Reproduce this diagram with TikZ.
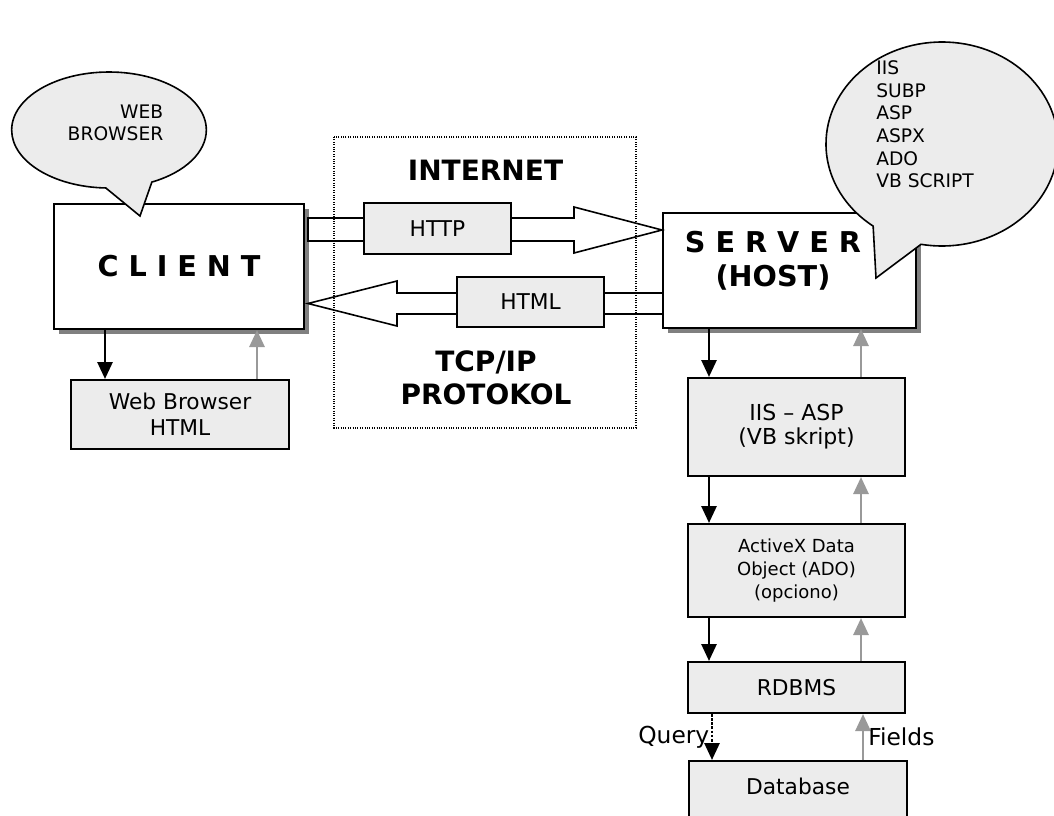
\documentclass[tikz,border=0pt]{standalone}
\usepackage{fontspec}
\setmainfont{DejaVu Sans}
\usepackage{tikz}
\usetikzlibrary{arrows.meta,shapes.callouts,shadows}
\definecolor{boxgray}{HTML}{ECECEC}
\definecolor{arrgray}{HTML}{999999}
\newcommand{\boxfont}{\fontsize{16.3}{19.5}\selectfont}
\newcommand{\bigfont}{\fontsize{21.5}{25.5}\selectfont\bfseries}
\newcommand{\callfont}{\fontsize{14}{17}\selectfont}
\tikzset{
  mainbox/.style={draw, line width=1.5pt, fill=white, inner sep=0pt,
    drop shadow={shadow xshift=3.5pt, shadow yshift=-3.5pt, fill=black!50, opacity=1}},
  graybox/.style={draw, line width=1.5pt, fill=boxgray, inner sep=0pt, align=center, font=\boxfont},
  fwdarr/.style={-{Triangle[length=12.75pt,width=11.25pt]}, line width=2.1pt},
  backarr/.style={fwdarr, draw=arrgray, fill=arrgray},
  blockarr/.style={draw, line width=1.2pt, fill=white, line join=miter},
  bubble/.style={ellipse callout, draw, line width=1.2pt, fill=boxgray}
}

\begin{document}
\begin{tikzpicture}[x=0.75pt, y=-0.75pt]
    \useasboundingbox (0,0) rectangle (1054,815);

    % main boxes
    \node[mainbox, minimum width=187.5pt, minimum height=93.75pt, font=\bigfont] (client) at (179,266.5) {C L I E N T};
    \node[mainbox, minimum width=189.75pt, minimum height=86.25pt] (server) at (789.5,270.5) {};
    \node[align=center, font=\bigfont] (srvlabel) at (773,261) {S E R V E R\\(HOST)};

    % block arrows
    \draw[blockarr] (308,218) -- (574,218) -- (574,207) -- (662,230) -- (574,253) -- (574,241) -- (308,241) -- cycle;
    \draw[blockarr] (663,293) -- (397,293) -- (397,281) -- (308,303.5) -- (397,326) -- (397,314) -- (663,314) -- cycle;
    \node[graybox, minimum width=110.25pt, minimum height=38.25pt] (http) at (437.5,228.5) {HTTP};
    \node[graybox, minimum width=110.25pt, minimum height=37.5pt] (html) at (530.5,302) {HTML};

    % internet
    \draw[densely dotted, line width=0.8pt] (334,137) rectangle (636,428);
    \node[font=\fontsize{21}{25}\selectfont\bfseries] (inetlabel) at (485.5,170) {INTERNET};
    \node[align=center, font=\fontsize{21}{25}\selectfont\bfseries] (tcplabel) at (486,378) {TCP/IP\\PROTOKOL};

    % lower boxes
    \node[graybox, minimum width=163.5pt, minimum height=51.75pt] (wbh) at (180,414.5) {Web Browser\\HTML};
    \node[graybox, minimum width=162.75pt, minimum height=73.5pt, font=\fontsize{16.5}{18}\selectfont] (iis) at (796.5,427) {IIS -- ASP\\(VB skript)};
    \node[graybox, minimum width=162.75pt, minimum height=69.75pt, font=\fontsize{13.5}{17}\selectfont] (ado) at (796.5,570.5) {ActiveX Data\\Object (ADO)\\(opciono)};
    \node[graybox, minimum width=162.75pt, minimum height=38.25pt] (rdbms) at (796.5,687.5) {RDBMS};
    \node[graybox, anchor=north, minimum width=163.5pt, text height=24.75pt, text depth=60pt] (database) at (798,760) {Database};

    % connectors
    \draw[fwdarr] (client.south -| 105,0) -- (wbh.north -| 105,0);
    \draw[backarr] (wbh.north -| 257,0) -- (client.south -| 257,0);
    \draw[fwdarr] (server.south -| 709,0) -- (iis.north -| 709,0);
    \draw[backarr] (iis.north -| 861,0) -- (server.south -| 861,0);
    \draw[fwdarr] (iis.south -| 709,0) -- (ado.north -| 709,0);
    \draw[backarr] (ado.north -| 861,0) -- (iis.south -| 861,0);
    \draw[fwdarr] (ado.south -| 709,0) -- (rdbms.north -| 709,0);
    \draw[backarr] (rdbms.north -| 861,0) -- (ado.south -| 861,0);
    \draw[fwdarr, densely dotted] (rdbms.south -| 712,0) -- (database.north -| 712,0)
      node[midway, left, inner sep=1pt, font=\fontsize{17.5}{20}\selectfont] (query) {Query};
    \draw[backarr] (database.north -| 863,0) -- (rdbms.south -| 863,0)
      node[midway, right, inner sep=3pt, font=\fontsize{17.5}{20}\selectfont] (fields) {Fields};

    % callouts
    \node[bubble, minimum width=146pt, minimum height=87pt, callout absolute pointer={(140,216)}, callout pointer arc=28] (wbcall) at (109,130) {};
    \node[align=right, font=\fontsize{14}{16.5}\selectfont] (wbtext) at (115.5,123) {WEB\\BROWSER};
    \node[bubble, minimum width=174pt, minimum height=153pt, callout absolute pointer={(876,278)}, callout pointer arc=26] (srvcall) at (942,144) {};
    \node[anchor=west, align=left, inner sep=0pt, font=\callfont] (srvtext) at (876,124.5) {IIS\\SUBP\\ASP\\ASPX\\ADO\\VB SCRIPT};
\end{tikzpicture}
\end{document}
